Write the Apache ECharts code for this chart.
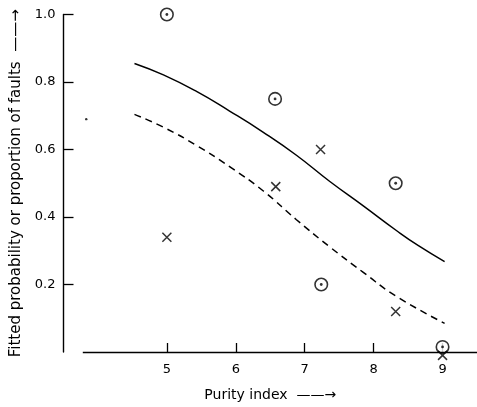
<!DOCTYPE html>
<html>
<head>
<meta charset="utf-8">
<script src="https://cdn.jsdelivr.net/npm/echarts@6/dist/echarts.min.js"></script>
<style>
  html, body { margin: 0; padding: 0; background: #fff; }
  #chart { width: 477px; height: 407px; }
</style>
</head>
<body>
<div id="chart"></div>
<script>
// Observed proportions of faults (circled dots) and fitted probabilities (crosses)
const circlePoints = [[5.0, 1.0], [6.57, 0.75], [7.24, 0.2], [8.32, 0.5], [9.0, 0.015]];
const crossPoints = [[5.0, 0.34], [6.58, 0.49], [7.23, 0.6], [8.32, 0.12], [9.0, -0.01]];
const speck = [[3.83, 0.69]];

// Fitted curves over the purity index
const solidX = [4.53, 4.95, 5.43, 5.91, 6.40, 6.88, 7.36, 7.85, 8.33, 8.65, 9.03];
const solidY = [0.855, 0.821, 0.772, 0.714, 0.651, 0.583, 0.506, 0.433, 0.36, 0.315, 0.268];
const dashedX = [4.53, 4.95, 5.43, 5.91, 6.40, 6.88, 7.36, 7.85, 8.33, 9.03];
const dashedY = [0.704, 0.666, 0.612, 0.549, 0.477, 0.392, 0.312, 0.236, 0.165, 0.085];

const xTicks = [5, 6, 7, 8, 9];
const yTicks = [0.2, 0.4, 0.6, 0.8, 1.0];
const xAxisStart = 3.78;
const xAxisEnd = 9.5;

const ink = '#000';
const font = 'DejaVu Sans';

const zip = (xs, ys) => xs.map((x, i) => [x, ys[i]]);

const chart = echarts.init(document.getElementById('chart'), null, { renderer: 'canvas' });

chart.setOption({
  animation: false,
  backgroundColor: '#fff',
  grid: { left: 63.5, right: 0, top: 14.5, bottom: 48, containLabel: false },
  xAxis: {
    type: 'value',
    min: 3.5,
    max: 9.5,
    name: 'Purity index  ——→',
    nameLocation: 'middle',
    nameGap: 36,
    nameTextStyle: { color: ink, fontFamily: font, fontSize: 14 },
    axisLine: { show: false },
    axisTick: { show: true, inside: true, length: 9, customValues: xTicks, lineStyle: { color: ink, width: 1.3 } },
    axisLabel: { customValues: xTicks, color: ink, fontFamily: font, fontSize: 13, margin: 11 },
    splitLine: { show: false }
  },
  yAxis: {
    type: 'value',
    min: 0,
    max: 1,
    name: 'Fitted probability or proportion of faults  ——→',
    nameLocation: 'middle',
    nameRotate: 90,
    nameGap: 38,
    nameTextStyle: { color: ink, fontFamily: font, fontSize: 15 },
    axisLine: { show: true, lineStyle: { color: ink, width: 1.4 } },
    axisTick: { show: true, inside: true, length: 10, customValues: yTicks, lineStyle: { color: ink, width: 1.3 } },
    axisLabel: {
      customValues: yTicks, color: ink, fontFamily: font, fontSize: 13, margin: 8,
      formatter: v => v.toFixed(1)
    },
    splitLine: { show: false }
  },
  series: [
    {
      name: 'fitted',
      type: 'line',
      data: zip(solidX, solidY),
      smooth: 0.5,
      symbol: 'none',
      lineStyle: { color: ink, width: 1.5 },
      markLine: {
        silent: true,
        symbol: 'none',
        label: { show: false },
        lineStyle: { color: ink, width: 1.3, type: 'solid' },
        data: [[{ coord: [xAxisStart, 0] }, { coord: [xAxisEnd, 0] }]]
      }
    },
    {
      name: 'fitted (dashed)',
      type: 'line',
      data: zip(dashedX, dashedY),
      smooth: 0.5,
      symbol: 'none',
      lineStyle: { color: ink, width: 1.5, type: [7, 5] }
    },
    {
      name: 'observed',
      type: 'scatter',
      clip: false,
      data: circlePoints,
      symbol: 'circle',
      symbolSize: 12.5,
      itemStyle: { color: '#fff', borderColor: ink, borderWidth: 1.6 },
      z: 3
    },
    {
      name: 'observed centre',
      type: 'scatter',
      clip: false,
      data: circlePoints,
      symbol: 'circle',
      symbolSize: 2.8,
      itemStyle: { color: ink },
      z: 4
    },
    {
      name: 'crosses',
      type: 'scatter',
      clip: false,
      data: crossPoints,
      symbol: 'path://M0,0L10,10M10,0L0,10',
      symbolSize: 9,
      itemStyle: { color: 'none', borderColor: ink, borderWidth: 1.5 },
      z: 3
    },
    {
      name: 'speck',
      type: 'scatter',
      clip: false,
      data: speck,
      symbol: 'circle',
      symbolSize: 2.4,
      itemStyle: { color: ink }
    }
  ]
});
</script>
</body>
</html>
